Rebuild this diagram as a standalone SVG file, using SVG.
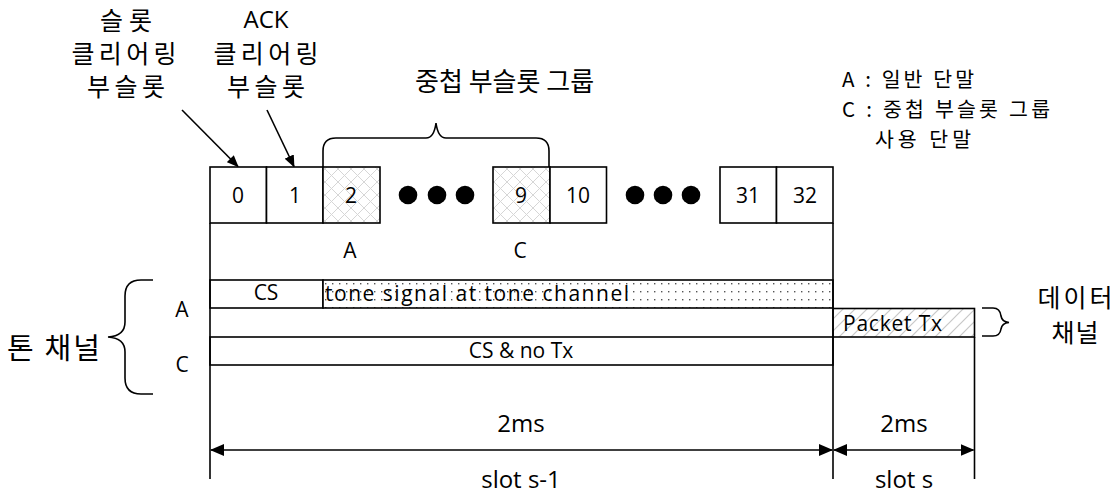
<svg xmlns="http://www.w3.org/2000/svg" width="1118" height="495" viewBox="0 0 1118 495">
  <style>
    .ln { stroke: #000; stroke-width: 1.6; fill: none; }
    .box { stroke: #000; stroke-width: 1.6; }
    .plain { fill: #fff; }
    .cross { fill: url(#cross); }
    .dots { fill: url(#dots); }
    .hatch { fill: url(#hatch); }
    .kr { font-family: "Noto Sans CJK KR", "Noto Sans", sans-serif; fill: #000; }
    .lt { font-family: "Open Sans", "Noto Sans", sans-serif; fill: #000; }
    .mid { text-anchor: middle; }
  </style>
  <defs>
    <pattern id="cross" width="13" height="13" patternUnits="userSpaceOnUse">
      <rect width="13" height="13" fill="#fff"/>
      <path d="M0 0 L13 13 M13 0 L0 13" stroke="#d6d6d6" stroke-width="1"/>
    </pattern>
    <pattern id="dots" width="7" height="8" patternUnits="userSpaceOnUse">
      <rect width="7" height="8" fill="#fff"/>
      <rect x="3" y="3" width="1.4" height="1.4" fill="#555"/>
    </pattern>
    <pattern id="hatch" width="12" height="12" patternUnits="userSpaceOnUse">
      <rect width="12" height="12" fill="#fff"/>
      <path d="M0 12 L12 0 M-3 3 L3 -3 M9 15 L15 9" stroke="#c8c8c8" stroke-width="1.2"/>
    </pattern>
    <marker id="ah" markerWidth="14" markerHeight="12" refX="13" refY="6" orient="auto-start-reverse" markerUnits="userSpaceOnUse">
      <path d="M0 0 L14 6 L0 12 Z" fill="#000"/>
    </marker>
    <marker id="ahs" markerWidth="12" markerHeight="10" refX="11" refY="5" orient="auto-start-reverse" markerUnits="userSpaceOnUse">
      <path d="M0 0 L12 5 L0 10 Z" fill="#000"/>
    </marker>
  </defs>

  <!-- sub-slot labels -->
  <g id="label-slot-clear">
    <text class="kr mid" x="126" y="30" font-size="25" textLength="52">슬롯</text>
    <text class="kr mid" x="124" y="63" font-size="25" textLength="105">클리어링</text>
    <text class="kr mid" x="126" y="96" font-size="25" textLength="78">부슬롯</text>
  </g>
  <g id="label-ack-clear">
    <text class="lt mid" x="266" y="28" font-size="24">ACK</text>
    <text class="kr mid" x="266" y="63" font-size="25" textLength="105">클리어링</text>
    <text class="kr mid" x="266" y="96" font-size="25" textLength="78">부슬롯</text>
  </g>
  <g id="label-group">
    <text class="kr" x="415" y="91" font-size="26">중첩 부슬롯 그룹</text>
  </g>
  <g id="legend">
    <text class="kr" x="842" y="87" font-size="20.5" textLength="132">A : 일반 단말</text>
    <text class="kr" x="842" y="117" font-size="20.5" textLength="208">C : 중첩 부슬롯 그룹</text>
    <text class="kr" x="875" y="147" font-size="20.5" textLength="96">사용 단말</text>
  </g>

  <!-- sub-slot row -->
  <g id="subslots">
    <rect class="box plain" x="210" y="167" width="56.5" height="56"/>
    <rect class="box plain" x="266.5" y="167" width="56.5" height="56"/>
    <rect class="box cross" x="323" y="167" width="57" height="56"/>
    <rect class="box cross" x="493" y="167" width="57" height="56"/>
    <rect class="box plain" x="550" y="167" width="56.5" height="56"/>
    <rect class="box plain" x="720" y="167" width="56.5" height="56"/>
    <rect class="box plain" x="776.5" y="167" width="56.5" height="56"/>
    <g class="lt mid" font-size="21">
      <text x="238" y="203">0</text>
      <text x="295" y="203">1</text>
      <text x="351" y="203">2</text>
      <text x="521" y="203">9</text>
      <text x="578" y="203">10</text>
      <text x="748" y="203">31</text>
      <text x="805" y="203">32</text>
    </g>
    <circle cx="408" cy="195" r="9.3"/>
    <circle cx="437" cy="195" r="9.3"/>
    <circle cx="465" cy="195" r="9.3"/>
    <circle cx="635" cy="195" r="9.3"/>
    <circle cx="663" cy="195" r="9.3"/>
    <circle cx="691" cy="195" r="9.3"/>
    <text class="lt mid" x="350" y="258" font-size="21">A</text>
    <text class="lt mid" x="520" y="258" font-size="21">C</text>
  </g>

  <!-- tone channel rows -->
  <g id="tone-A">
    <rect class="box plain" x="210" y="280" width="113" height="28"/>
    <rect class="box dots" x="323" y="280" width="510" height="28"/>
    <text class="lt mid" x="266" y="300" font-size="21">CS</text>
    <text class="lt" x="325" y="301" font-size="21" textLength="304">tone signal at tone channel</text>
  </g>
  <g id="tone-C">
    <rect class="box plain" x="210" y="337" width="623" height="28"/>
    <text class="lt mid" x="521" y="358" font-size="21">CS &amp; no Tx</text>
  </g>
  <g id="packet">
    <rect class="box hatch" x="833" y="308.5" width="141.5" height="28.5"/>
    <text class="lt" x="843" y="331" font-size="21" textLength="99">Packet Tx</text>
  </g>
  <g id="tone-labels">
    <text class="lt mid" x="182" y="317" font-size="21">A</text>
    <text class="lt mid" x="182" y="372" font-size="21">C</text>
    <text class="kr" x="7" y="359" font-size="29" textLength="93">톤 채널</text>
  </g>
  <g id="data-label">
    <text class="kr mid" x="1075" y="307" font-size="25" textLength="75">데이터</text>
    <text class="kr mid" x="1075" y="342" font-size="25" textLength="47">채널</text>
  </g>

  <!-- braces, guide lines and dimension arrows -->
  <g id="connectors">
    <path class="ln" d="M323 167 V151 Q323 138 336 138 H426 Q434 138 436 123 Q438 138 446 138 H536 Q549 138 549 151 V167"/>
    <path class="ln" d="M153 280 H141 Q125 280 125 296 V322 Q125 336 108 337 Q125 338 125 352 V378 Q125 394 141 394 H153"/>
    <path class="ln" d="M982 308 H993 Q1000 308 1001 316 Q1002 322 1009 322.5 Q1002 323 1001 329 Q1000 336 993 336 H982"/>
    <line class="ln" x1="182" y1="110" x2="238" y2="166.5" marker-end="url(#ahs)"/>
    <line class="ln" x1="267" y1="110" x2="294" y2="166.5" marker-end="url(#ahs)"/>
    <line class="ln" x1="210" y1="223" x2="210" y2="479"/>
    <line class="ln" x1="833" y1="223" x2="833" y2="479"/>
    <line class="ln" x1="974.5" y1="337" x2="974.5" y2="479"/>
    <line class="ln" x1="211" y1="450" x2="832" y2="450" marker-start="url(#ah)" marker-end="url(#ah)"/>
    <line class="ln" x1="834" y1="450" x2="973.5" y2="450" marker-start="url(#ah)" marker-end="url(#ah)"/>
  </g>
  <g id="dim-labels">
    <text class="lt mid" x="521" y="432" font-size="24">2ms</text>
    <text class="lt mid" x="904" y="432" font-size="24">2ms</text>
    <text class="lt mid" x="521" y="488" font-size="24">slot s-1</text>
    <text class="lt mid" x="904" y="488" font-size="24">slot s</text>
  </g>
</svg>
